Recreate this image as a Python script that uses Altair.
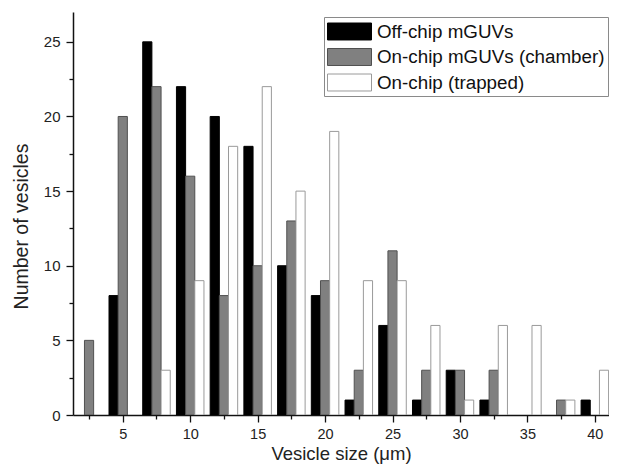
import altair as alt
import pandas as pd

sizes = [2.5, 5, 7.5, 10, 12.5, 15, 17.5, 20, 22.5, 25, 27.5, 30, 32.5, 35, 37.5, 40]
off_chip = [0, 8, 25, 22, 20, 18, 10, 8, 1, 6, 1, 3, 1, 0, 0, 1]
on_chip_chamber = [5, 20, 22, 16, 8, 10, 13, 9, 3, 11, 3, 3, 3, 0, 1, 0]
on_chip_trapped = [0, 0, 3, 9, 18, 22, 15, 19, 9, 9, 6, 1, 6, 6, 1, 3]
series_names = ["Off-chip mGUVs", "On-chip mGUVs (chamber)", "On-chip (trapped)"]
series_values = [off_chip, on_chip_chamber, on_chip_trapped]
fills = ["#000000", "#808080", "#ffffff"]
strokes = ["#000000", "#505050", "#9a9a9a"]
x_ticks = [2.5 * i for i in range(1, 17)]
y_ticks = [2.5 * i for i in range(0, 11)]

rows = []
for k, (name, vals) in enumerate(zip(series_names, series_values)):
    for s, v in zip(sizes, vals):
        rows.append({"size": s, "count": v, "series": name, "k": k})
df = pd.DataFrame(rows)

BAR_W = 0.68
FONT = "Liberation Sans"

legend_kw = dict(
    title=None,
    orient="none",
    legendX=251,
    legendY=5,
    symbolType="M-1,-0.772H3V0.772H-1Z",
    symbolSize=484,
    symbolStrokeWidth=1,
    labelFontSize=18.8,
    labelFont=FONT,
    labelColor="#111111",
    labelOffset=27,
    rowPadding=3.5,
    padding=3,
    strokeColor="#8a8a8a",
    labelLimit=400,
)

chart = (
    alt.Chart(df)
    .transform_filter("datum.count > 0")
    .transform_calculate(
        x0=f"datum.size + (datum.k - 1.5) * {BAR_W}",
        x1=f"datum.size + (datum.k - 0.5) * {BAR_W}",
    )
    .mark_bar(strokeWidth=1, clip=True)
    .encode(
        x=alt.X(
            "x0:Q",
            scale=alt.Scale(domain=[1.31, 41.05], nice=False, zero=False),
            axis=alt.Axis(
                title="Vesicle size (μm)",
                values=x_ticks,
                labelExpr="datum.value % 5 === 0 ? datum.label : ''",
                tickSize={"condition": {"test": "datum.value % 5 === 0", "value": 7}, "value": 4},
                labelPadding=5,
                labelFontSize=14.5,
                titleFontSize=18.5,
                titleFontWeight="normal",
                titleBaseline="alphabetic",
                titleY=44.5,
                grid=False,
                labelFlush=False,
                labelOverlap=False,
            ),
        ),
        x2="x1:Q",
        y=alt.Y(
            "count:Q",
            scale=alt.Scale(domain=[0, 27], nice=False),
            axis=alt.Axis(
                title="Number of vesicles",
                values=y_ticks,
                labelExpr="datum.value % 5 === 0 ? datum.label : ''",
                tickSize={"condition": {"test": "datum.value % 5 === 0", "value": 7}, "value": 4},
                labelPadding=6,
                labelFontSize=15,
                titleFontSize=19.5,
                titleFontWeight="normal",
                titleBaseline="alphabetic",
                titleX=-46,
                titleY=214,
                grid=False,
                labelFlush=False,
                labelOverlap=False,
            ),
        ),
        y2=alt.datum(0),
        fill=alt.Fill(
            "series:N",
            scale=alt.Scale(domain=series_names, range=fills),
            legend=alt.Legend(**legend_kw),
        ),
        stroke=alt.Stroke(
            "series:N",
            scale=alt.Scale(domain=series_names, range=strokes),
            legend=alt.Legend(**legend_kw),
        ),
        order=alt.Order("k:Q"),
    )
    .properties(
        width=536,
        height=403,
        autosize=alt.AutoSizeParams(type="none"),
        padding={"left": 65, "top": 4, "right": 0, "bottom": 49},
    )
    .configure_view(stroke=None)
    .configure_axis(
        labelFont=FONT,
        titleFont=FONT,
        labelColor="#222222",
        titleColor="#222222",
        domainColor="#111111",
        tickColor="#111111",
        domainWidth=1.5,
        tickWidth=1.3,
    )
)

chart.save("out.html", embed_options={"renderer": "svg", "actions": False})
